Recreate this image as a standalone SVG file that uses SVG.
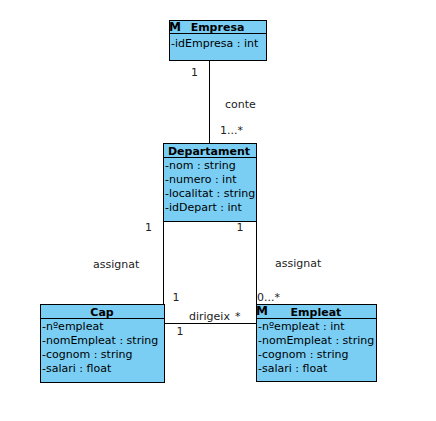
<svg xmlns="http://www.w3.org/2000/svg" width="436" height="421" viewBox="0 0 436 421">
<style>
text{font-family:"DejaVu Sans","Liberation Sans",sans-serif;font-size:11px;fill:#000}
.box{fill:#7acef4;stroke:#000;stroke-width:1}
.hdr{font-weight:bold;text-anchor:middle}
.icon{font-weight:bold;font-size:12px}
.lbl{fill:#222}
.conn line{stroke:#000;stroke-width:1;fill:none}
</style>
<rect width="436" height="421" fill="#fff"/>
<g id="connectors" class="conn">
<line x1="209.5" y1="60" x2="209.5" y2="143.5"/>
<line x1="163.5" y1="221" x2="163.5" y2="304.5"/>
<line x1="256.5" y1="221" x2="256.5" y2="304.5"/>
<line x1="164.5" y1="323.5" x2="256.5" y2="323.5"/>
</g>
<g id="labels">
<text class="lbl" x="191" y="76">1</text>
<text class="lbl" x="225" y="107.5">conte</text>
<text class="lbl" x="220" y="134">1...*</text>
<text class="lbl" x="145" y="231">1</text>
<text class="lbl" x="236.5" y="231">1</text>
<text class="lbl" x="93" y="268">assignat</text>
<text class="lbl" x="275" y="267">assignat</text>
<text class="lbl" x="172.5" y="301">1</text>
<text class="lbl" x="257" y="300.5">0...*</text>
<text class="lbl" x="189" y="319.5">dirigeix</text>
<text class="lbl" x="235" y="319.5">*</text>
<text class="lbl" x="176.5" y="335">1</text>
</g>
<g id="Empresa">
<rect class="box" x="169.5" y="20.5" width="97" height="40"/>
<line x1="169.5" y1="33.5" x2="266.5" y2="33.5" stroke="#000"/>
<text class="icon" x="169" y="30.5">M</text>
<text class="hdr" x="217.5" y="31">Empresa</text>
<text x="171" y="47">-idEmpresa : int</text>
</g>
<g id="Departament">
<rect class="box" x="163.5" y="143.5" width="93" height="78"/>
<line x1="163.5" y1="157.5" x2="256.5" y2="157.5" stroke="#000"/>
<text class="hdr" x="209" y="154.5">Departament</text>
<text x="165" y="169">-nom : string</text>
<text x="165" y="183">-numero : int</text>
<text x="165" y="197">-localitat : string</text>
<text x="165" y="211">-idDepart : int</text>
</g>
<g id="Cap">
<rect class="box" x="40.5" y="304.5" width="124" height="78"/>
<line x1="40.5" y1="318.5" x2="164.5" y2="318.5" stroke="#000"/>
<text class="hdr" x="102" y="315.5">Cap</text>
<text x="42" y="330">-nºempleat</text>
<text x="42" y="344">-nomEmpleat : string</text>
<text x="42" y="358">-cognom : string</text>
<text x="42" y="372">-salari : float</text>
</g>
<g id="Empleat">
<rect class="box" x="256.5" y="304.5" width="120" height="77"/>
<line x1="256.5" y1="318.5" x2="376.5" y2="318.5" stroke="#000"/>
<text class="icon" x="256" y="314.5">M</text>
<text class="hdr" x="316" y="315.5">Empleat</text>
<text x="258" y="330">-nºempleat : int</text>
<text x="258" y="344">-nomEmpleat : string</text>
<text x="258" y="358">-cognom : string</text>
<text x="258" y="372">-salari : float</text>
</g>
</svg>
